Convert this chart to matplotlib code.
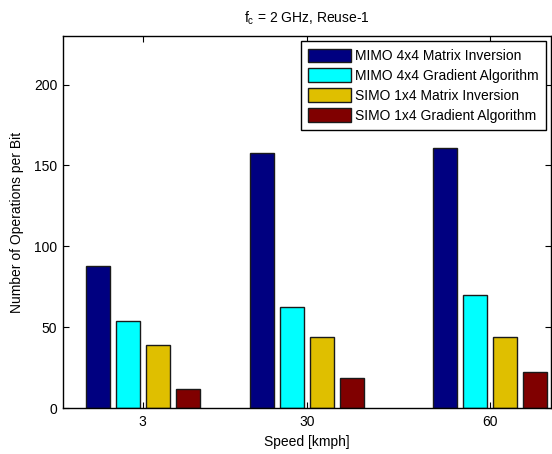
import numpy as np
import matplotlib
matplotlib.use("Agg")
import matplotlib.pyplot as plt

plt.rcParams['font.family'] = ['Liberation Sans', 'DejaVu Sans']
plt.rcParams['mathtext.default'] = 'regular'

speeds = [3, 30, 60]
labels = ["MIMO 4x4 Matrix Inversion", "MIMO 4x4 Gradient Algorithm",
          "SIMO 1x4 Matrix Inversion", "SIMO 1x4 Gradient Algorithm"]
mimo_inv = [88, 157.5, 161]
mimo_grad = [54, 62.5, 70]
simo_inv = [39, 44, 44]
simo_grad = [12, 18.5, 22.5]
colors = ['#000080', '#00ffff', '#dfbf00', '#800000']

series = [mimo_inv, mimo_grad, simo_inv, simo_grad]

fig = plt.figure(figsize=(5.52, 4.54), dpi=100)
ax = fig.add_axes([0.1149, 0.1007, 0.8833, 0.82])

# matlab style grouped bars on a numeric x axis
n = len(series)
spacing = np.min(np.diff(speeds))
group_w = min(0.8, n / (n + 1.5)) * spacing
step = group_w / n
x = np.array(speeds, dtype=float)
for k in range(n):
    off = (k - (n - 1) / 2) * step
    ax.bar(x + off, series[k], width=0.8 * step, color=colors[k],
           edgecolor='#1a1a1a', linewidth=1, label=labels[k])

ax.set_xlim(-10, 70)
ax.set_ylim(0, 230)
ax.set_xticks(speeds)
ax.set_yticks([0, 50, 100, 150, 200])
ax.tick_params(direction='in', top=True, right=True, length=4, width=0.8,
               labelsize=10)
ax.tick_params(axis='y', pad=4.5)
ax.tick_params(axis='x', pad=5)
for s in ax.spines.values():
    s.set_linewidth(1)

ax.set_xlabel('Speed [kmph]', fontsize=10, labelpad=4)
ax.set_ylabel('Number of Operations per Bit', fontsize=10, labelpad=7)
ax.set_title('f$_c$ = 2 GHz, Reuse-1', fontsize=10, pad=10)

leg = ax.legend(loc='upper right', fontsize=10, fancybox=False,
                edgecolor='black', framealpha=1, borderaxespad=0.35,
                handlelength=3.1, handleheight=1.1, handletextpad=0.25,
                labelspacing=0.4, borderpad=0.55)
leg.get_frame().set_linewidth(1)

fig.savefig('out.png', dpi=100)
